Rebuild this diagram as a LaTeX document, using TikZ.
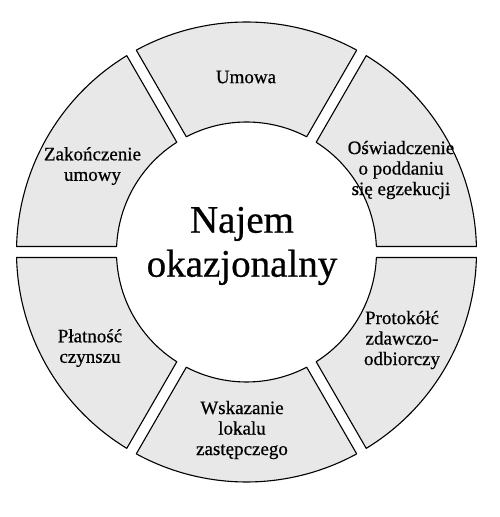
\documentclass[tikz,border=0pt]{standalone}
\usepackage{fontspec}
\setmainfont{Liberation Serif}[FakeBold=0.6]
\begin{document}
\begin{tikzpicture}[x=1pt, y=1pt,
		segment/.style={draw=black, fill=gray!18, line width=1.1pt, line join=round},
		label/.style={align=center, font=\fontsize{19}{20.5}\selectfont},
		title/.style={align=center, font=\fontsize{39}{44}\selectfont}]
		\useasboundingbox (0,0) rectangle (500,517);
		\coordinate (O) at (246.5,265);
		% ring segments, gaps at multiples of 60 degrees
		\foreach \a in {0,60,120,180,240,300}{
			\pgfmathsetmacro{\b}{\a+60}
			\filldraw[segment] ([shift={(O)}]\a+1.37:230) arc[start angle=\a+1.37, end angle=\b-1.37, radius=230]
				-- ([shift={(O)}]\b-2.42:130) arc[start angle=\b-2.42, end angle=\a+2.42, radius=130] -- cycle;
		}
		\node[title] (najem) at (242,271) {Najem\\okazjonalny};
		\node[label] (umowa) at (246,440) {Umowa};
		\node[label] (oswiadczenie) at (401,347) {Oświadczenie\\o poddaniu\\się egzekucji};
		\node[label] (protokol) at (402,177) {Protokółć\\zdawczo-\\odbiorczy};
		\node[label] (wskazanie) at (242,87) {Wskazanie\\lokalu\\zastępczego};
		\node[label] (platnosc) at (90,169) {Płatność\\czynszu};
		\node[label] (zakonczenie) at (92.5,351) {Zakończenie\\umowy};
	\end{tikzpicture}
\end{document}
